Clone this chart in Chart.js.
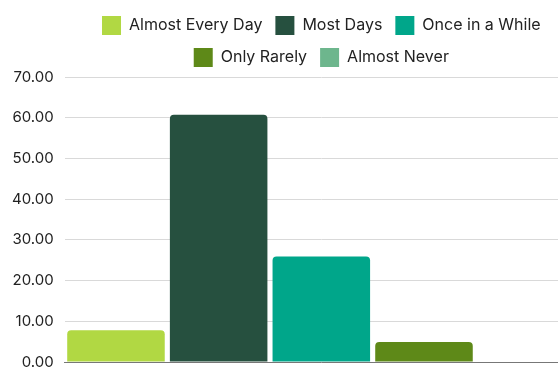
<!DOCTYPE html>
<html>
<head>
<meta charset="utf-8">
<script src="https://cdn.jsdelivr.net/npm/chart.js@4"></script>
<style>
  body { margin: 0; overflow: hidden; background: #fff; }
  #wrap { width: 580px; height: 382px; }
</style>
</head>
<body>
<div id="wrap"><canvas id="chart" width="580" height="382"></canvas></div>
<script>
const categories = [''];
const seriesNames = ['Almost Every Day', 'Most Days', 'Once in a While', 'Only Rarely', 'Almost Never'];
const seriesValues = [[7.8], [60.7], [25.9], [4.9], [0]];
const seriesColors = ['#b1d843', '#26503f', '#00a68a', '#5e8918', '#6db68d'];

const ctx = document.getElementById('chart').getContext('2d');
ctx.letterSpacing = '0.55px'; // a bit wider, closer to the original font

new Chart(ctx, {
  type: 'bar',
  data: {
    labels: categories,
    datasets: seriesNames.map((name, i) => ({
      label: name,
      data: seriesValues[i],
      backgroundColor: seriesColors[i],
      borderRadius: 4,
      categoryPercentage: 1,
      barPercentage: 0.95
    }))
  },
  options: {
    responsive: false,
    animation: false,
    layout: { padding: { left: 1, right: 2, top: 3, bottom: 0 } },
    plugins: {
      legend: {
        position: 'top',
        fullSize: false,
        labels: {
          boxWidth: 19,
          boxHeight: 19,
          padding: 13,
          color: '#222',
          font: { family: 'Inter', size: 16 }
        }
      },
      tooltip: { enabled: false }
    },
    scales: {
      x: {
        ticks: { display: false },
        grid: { display: false },
        border: { color: '#777' }
      },
      y: {
        min: 0,
        max: 70,
        ticks: {
          stepSize: 10,
          padding: 11,
          color: '#222',
          font: { family: 'Inter', size: 15 },
          callback: v => v.toFixed(2)
        },
        grid: { color: '#d9d9d9', drawTicks: false },
        border: { display: false }
      }
    }
  }
});
</script>
</body>
</html>
